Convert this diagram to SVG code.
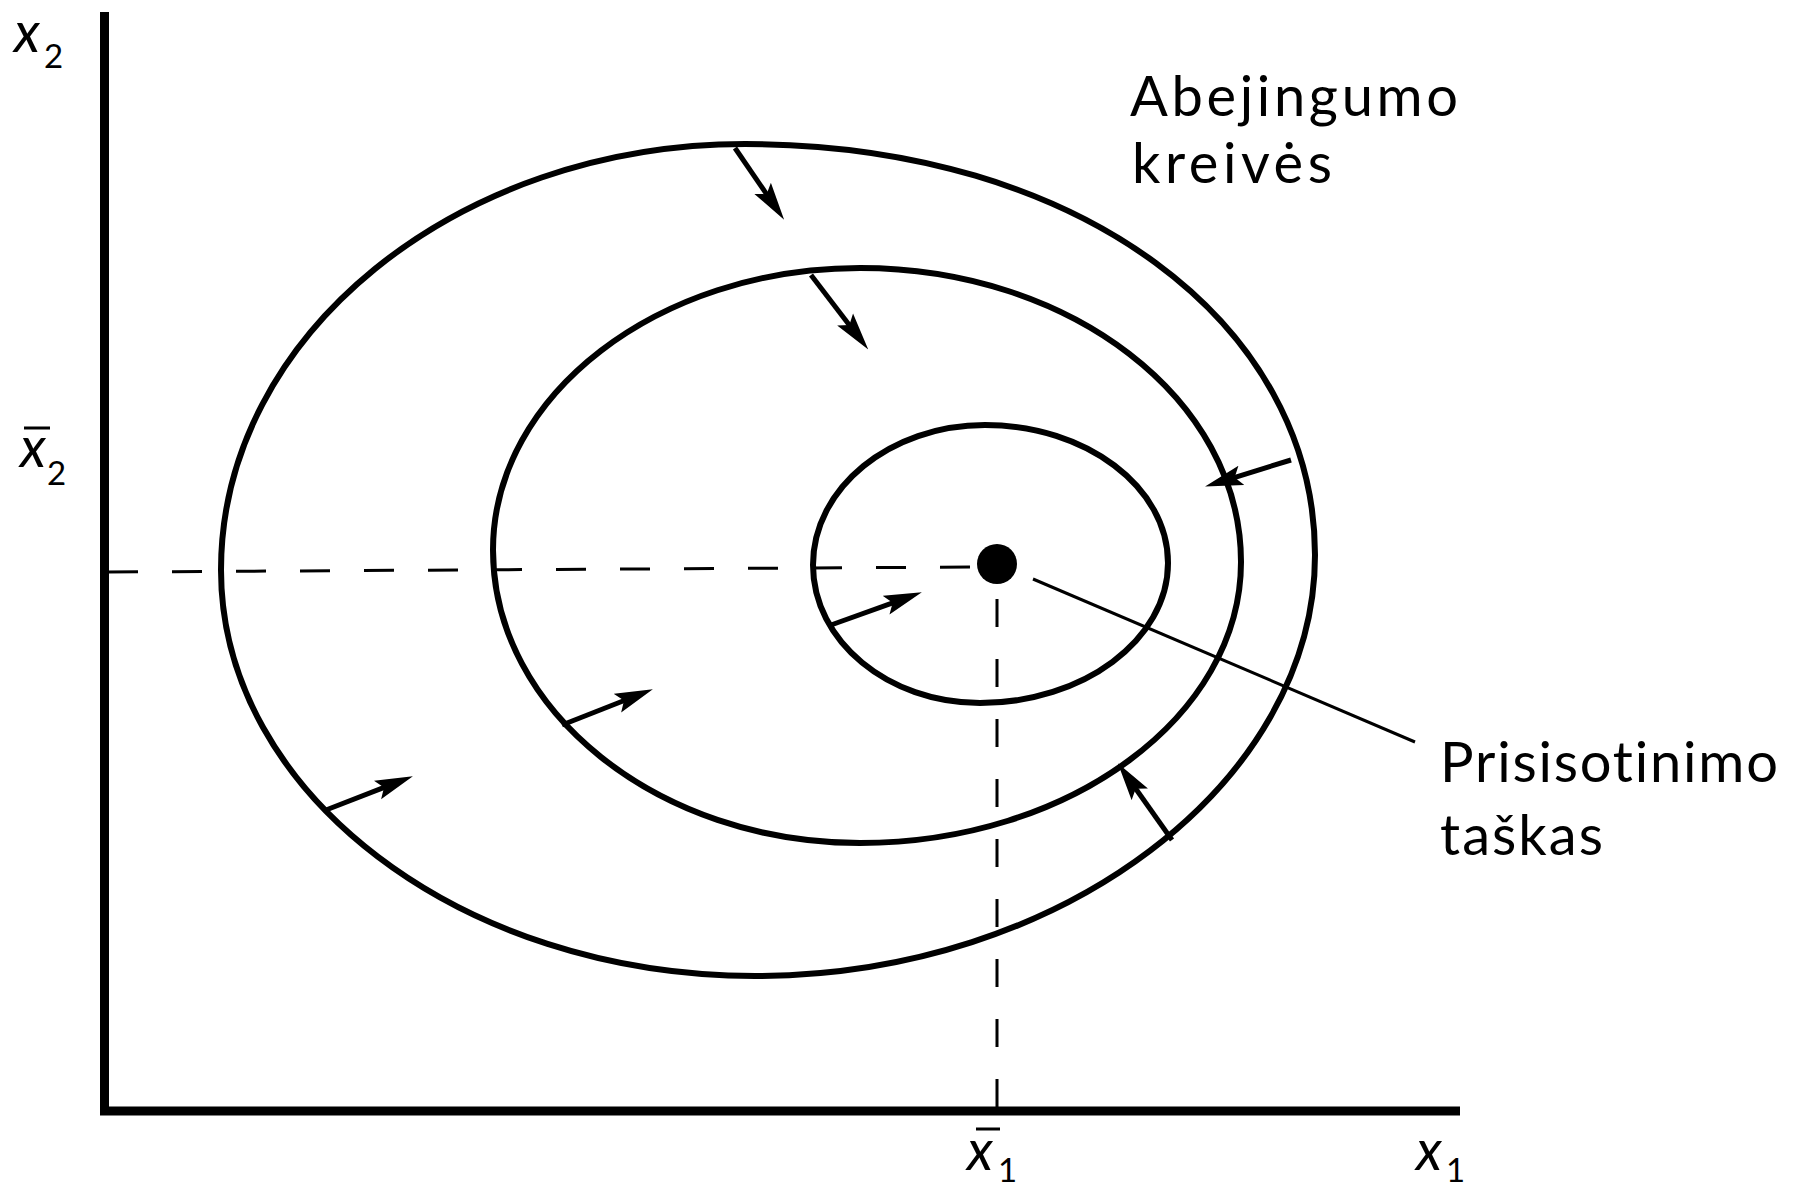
<svg xmlns="http://www.w3.org/2000/svg" width="1793" height="1190" viewBox="0 0 1793 1190">
<style>
.curve{fill:none;stroke:#000;stroke-width:6}
.axis{fill:none;stroke:#000;stroke-width:9;stroke-linejoin:miter}
.arrow{stroke:#000;stroke-width:5;fill:none;marker-end:url(#head)}
.dash{stroke:#000;stroke-width:3;fill:none}
.lbl{font-family:Lato,"Open Sans","Liberation Sans",sans-serif;font-size:56px;fill:#000;font-variant-ligatures:none}
.var{font-family:Lato,"Open Sans","Liberation Sans",sans-serif;font-style:italic;font-size:56px;fill:#000}
.sub{font-family:Lato,"Open Sans","Liberation Sans",sans-serif;font-size:33px;fill:#000}
</style>
<defs>
<marker id="head" viewBox="0 0 38 22" refX="10" refY="11" markerWidth="38" markerHeight="22" markerUnits="userSpaceOnUse" orient="auto">
<path d="M0,1 L38,11 L0,21 L7,11 z" fill="#000"/>
</marker>
</defs>
<rect width="1793" height="1190" fill="#fff"/>
<g id="axes">
<path class="axis" d="M104.5,12 L104.5,1111 L1460,1111"/>
</g>
<g id="guides">
<path class="dash" d="M108,572 L976,567" stroke-dasharray="30 34"/>
<path class="dash" d="M997,1107 L997,586" stroke-dasharray="28 32"/>
</g>
<g id="outer-curve">
<path class="curve" d="M221,570 C221,335 457,144 745,144 C1080,144 1315,324 1315,555 C1315,782 1062,976 755,976 C461,976 221,793 221,570 Z"/>
</g>
<g id="middle-curve">
<path class="curve" d="M493,550 C493,395 658,268 860,268 C1070,268 1241,399 1241,562 C1241,716 1070,843 860,843 C658,843 493,711 493,550 Z"/>
</g>
<g id="inner-curve">
<path class="curve" d="M813,565 C813,488 890,425 985,425 C1086,425 1168,487 1168,563 C1168,640 1083,703 980,703 C888,703 813,641 813,565 Z"/>
</g>
<g id="satiation-point">
<circle cx="997" cy="564" r="20" fill="#000"/>
</g>
<g id="connectors">
<line class="arrow" x1="735" y1="148" x2="768.3" y2="196.6"/>
<line class="arrow" x1="811" y1="275" x2="851.2" y2="327.4"/>
<line class="arrow" x1="1291" y1="460" x2="1231.8" y2="478.3"/>
<line class="arrow" x1="1172" y1="840" x2="1134" y2="786.2"/>
<line class="arrow" x1="831" y1="625" x2="895.5" y2="601.8"/>
<line class="arrow" x1="562" y1="725" x2="626.8" y2="699.5"/>
<line class="arrow" x1="326" y1="810" x2="386.8" y2="786.4"/>
<line x1="1033" y1="579" x2="1415" y2="742" stroke="#000" stroke-width="3"/>
</g>
<g id="label-indifference">
<text class="lbl" x="1130" y="116" textLength="328" lengthAdjust="spacing">Abejingumo</text>
<text class="lbl" x="1132" y="183" textLength="200" lengthAdjust="spacing">kreivės</text>
</g>
<g id="label-satiation">
<text class="lbl" x="1440" y="782" textLength="338" lengthAdjust="spacing">Prisisotinimo</text>
<text class="lbl" x="1440" y="855" textLength="163" lengthAdjust="spacing">taškas</text>
</g>
<g id="axis-labels">
<text class="var" x="14" y="52">x</text><text class="sub" x="44" y="68">2</text>
<text class="var" x="20" y="467">x</text><text class="sub" x="47" y="485">2</text>
<line x1="24" y1="428" x2="50" y2="428" stroke="#000" stroke-width="3"/>
<text class="var" x="967" y="1170">x</text><text class="sub" x="998" y="1182">1</text>
<line x1="976" y1="1129" x2="1000" y2="1129" stroke="#000" stroke-width="3"/>
<text class="var" x="1416" y="1170">x</text><text class="sub" x="1446" y="1182">1</text>
</g>
</svg>
